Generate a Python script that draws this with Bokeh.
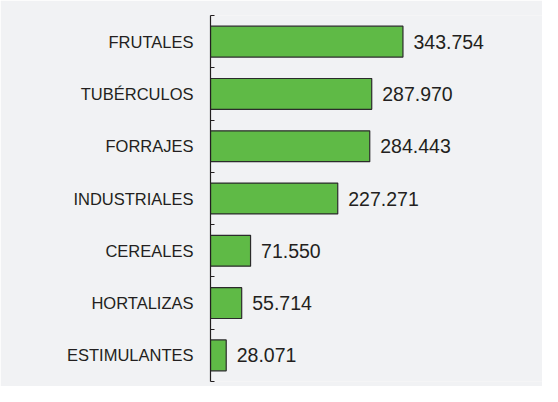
from bokeh.plotting import figure
from bokeh.models import Range1d, FixedTicker, ColumnDataSource
from bokeh.core.properties import value
from bokeh.embed import file_html
from bokeh.resources import INLINE

categories = ["FRUTALES", "TUBÉRCULOS", "FORRAJES", "INDUSTRIALES", "CEREALES", "HORTALIZAS", "ESTIMULANTES"]
values = [343.754, 287.970, 284.443, 227.271, 71.550, 55.714, 28.071]
value_labels = ["343.754", "287.970", "284.443", "227.271", "71.550", "55.714", "28.071"]

positions = [i + 0.5 for i in range(len(categories))]
boundaries = [i for i in range(len(categories) + 1)]

src = ColumnDataSource(dict(y=positions, v=values, lab=value_labels))

p = figure(width=542, height=386, output_backend="svg", toolbar_location=None,
           x_range=Range1d(0, 593), y_range=Range1d(len(categories), 0),
           min_border_left=210, min_border_right=0, min_border_top=15, min_border_bottom=5)
p.background_fill_color = "#f1f2f4"
p.border_fill_color = "#f1f2f4"
p.outline_line_color = None
p.xgrid.visible = False
p.ygrid.visible = False
p.xaxis.visible = False

p.hbar(y="y", left=0, right="v", height=0.59, source=src,
       fill_color="#5fba46", line_color="#2b2b2b", line_width=1.2)
p.text(x="v", y="y", text="lab", source=src, x_offset=10.5,
       text_baseline="middle", text_align="left",
       text_font=value("Liberation Sans"), text_font_size="19.5px", text_color="#231f20")

ax = p.yaxis[0]
ax.ticker = FixedTicker(ticks=positions, minor_ticks=boundaries)
ax.major_label_overrides = {pos: c for pos, c in zip(positions, categories)}
ax.major_tick_in = 0
ax.major_tick_out = 0
ax.minor_tick_in = 4
ax.minor_tick_out = 0
ax.minor_tick_line_color = "#231f20"
ax.axis_line_color = "#231f20"
ax.axis_line_width = 1.2
ax.major_label_standoff = 17
ax.major_label_text_font = "Liberation Sans"
ax.major_label_text_font_size = "16.5px"
ax.major_label_text_color = "#231f20"

open("out.html", "w").write(file_html(p, INLINE))
